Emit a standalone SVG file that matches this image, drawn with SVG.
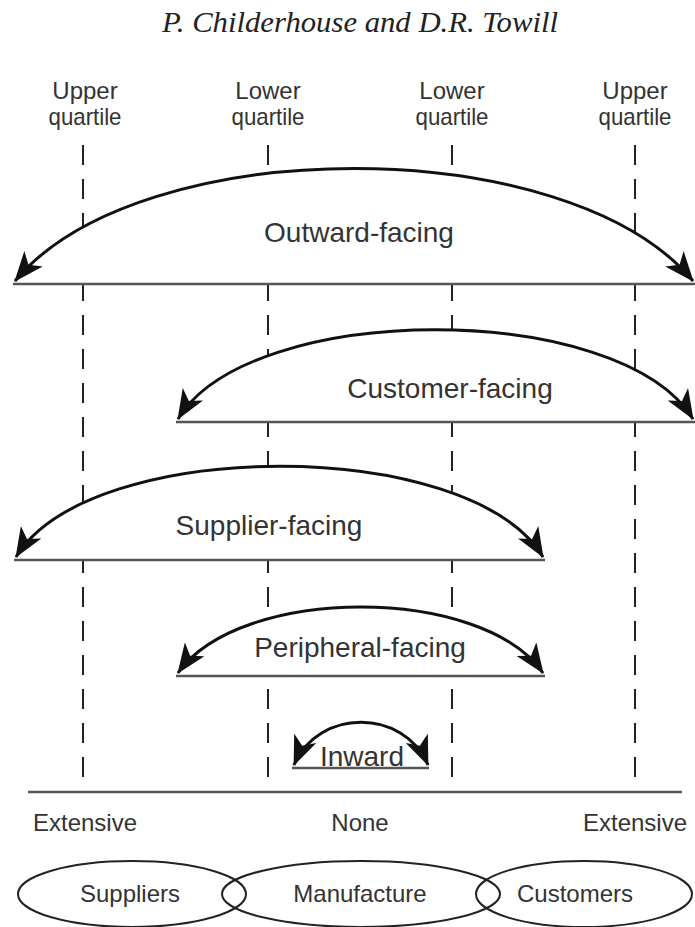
<svg xmlns="http://www.w3.org/2000/svg" width="695" height="927" viewBox="0 0 695 927">
<defs>
<style>
.t{font-family:"Liberation Sans",Arial,sans-serif;fill:#333;text-anchor:middle}
.big{font-size:28px}
.sm{font-size:24px}
.dash{stroke:#222;stroke-width:2;stroke-dasharray:20 14;fill:none}
.arc{fill:#fff;stroke:none}
.curve{fill:none;stroke:#111;stroke-width:3}
.base{stroke:#555;stroke-width:2.5;fill:none}
.ell{fill:none;stroke:#222;stroke-width:2}
</style>
<marker id="ah" markerUnits="userSpaceOnUse" markerWidth="30" markerHeight="24" viewBox="0 0 30 24" refX="29" refY="12" orient="auto-start-reverse">
<path d="M0,0 L30,12 L0,24 L8,12 Z" fill="#111"/>
</marker>
</defs>
<text x="360" y="32" textLength="396" lengthAdjust="spacingAndGlyphs" style="font-family:'Liberation Serif','Times New Roman',serif;font-style:italic;font-size:30px;fill:#222;text-anchor:middle">P. Childerhouse and D.R. Towill</text>
<g id="top-labels">
<text class="t sm" x="85" y="99">Upper</text><text class="t sm" x="85" y="125" textLength="73" lengthAdjust="spacingAndGlyphs">quartile</text>
<text class="t sm" x="268" y="99">Lower</text><text class="t sm" x="268" y="125" textLength="73" lengthAdjust="spacingAndGlyphs">quartile</text>
<text class="t sm" x="452" y="99">Lower</text><text class="t sm" x="452" y="125" textLength="73" lengthAdjust="spacingAndGlyphs">quartile</text>
<text class="t sm" x="635" y="99">Upper</text><text class="t sm" x="635" y="125" textLength="73" lengthAdjust="spacingAndGlyphs">quartile</text>
</g>
<g id="guides">
<line class="dash" x1="83" y1="145" x2="83" y2="792"/>
<line class="dash" x1="268" y1="145" x2="268" y2="792"/>
<line class="dash" x1="452" y1="145" x2="452" y2="792"/>
<line class="dash" x1="635" y1="145" x2="635" y2="792"/>
<line class="base" x1="28" y1="792" x2="682" y2="792"/>
</g>
<g id="outward">
<path class="arc" d="M13 284 L15 280 C140 131, 568 131, 693 280 L695 284 Z"/>
<path class="curve" marker-start="url(#ah)" marker-end="url(#ah)" d="M15 281 C140 131, 568 131, 693 281"/>
<line class="base" x1="13" y1="284" x2="695" y2="284"/>
<text class="t big" x="359" y="242">Outward-facing</text>
</g>
<g id="customer">
<path class="arc" d="M176 422 L178 418 C250 300, 620 300, 693 418 L695 422 Z"/>
<path class="curve" marker-start="url(#ah)" marker-end="url(#ah)" d="M178 419 C250 300, 620 300, 693 419"/>
<line class="base" x1="176" y1="422" x2="695" y2="422"/>
<text class="t big" x="450" y="398">Customer-facing</text>
</g>
<g id="supplier">
<path class="arc" d="M14 560 L16 556 C90 436, 470 436, 544 556 L545 560 Z"/>
<path class="curve" marker-start="url(#ah)" marker-end="url(#ah)" d="M16 557 C90 436, 470 436, 543 557"/>
<line class="base" x1="14" y1="560" x2="545" y2="560"/>
<text class="t big" x="269" y="535">Supplier-facing</text>
</g>
<g id="peripheral">
<path class="arc" d="M176 676 L178 672 C240 585, 482 585, 543 672 L545 676 Z"/>
<path class="curve" marker-start="url(#ah)" marker-end="url(#ah)" d="M178 673 C240 585, 482 585, 543 673"/>
<line class="base" x1="176" y1="676" x2="545" y2="676"/>
<text class="t big" x="360" y="657">Peripheral-facing</text>
</g>
<g id="inward">
<path class="arc" d="M292 768 L294 764 C318 708, 404 708, 428 764 L429 768 Z"/>
<path class="curve" marker-start="url(#ah)" marker-end="url(#ah)" d="M294 765 C318 708, 404 708, 428 765"/>
<line class="base" x1="292" y1="768" x2="429" y2="768"/>
<text class="t big" x="362" y="766">Inward</text>
</g>
<g id="scale-labels">
<text class="t sm" x="85" y="831">Extensive</text>
<text class="t sm" x="360" y="831">None</text>
<text class="t sm" x="635" y="831">Extensive</text>
</g>
<g id="suppliers"><ellipse class="ell" cx="132" cy="894" rx="114" ry="33"/><text class="t sm" x="130" y="902">Suppliers</text></g>
<g id="manufacture"><ellipse class="ell" cx="361" cy="894" rx="139" ry="33"/><text class="t sm" x="360" y="902">Manufacture</text></g>
<g id="customers"><ellipse class="ell" cx="584" cy="894" rx="108" ry="33"/><text class="t sm" x="575" y="902">Customers</text></g>
</svg>
